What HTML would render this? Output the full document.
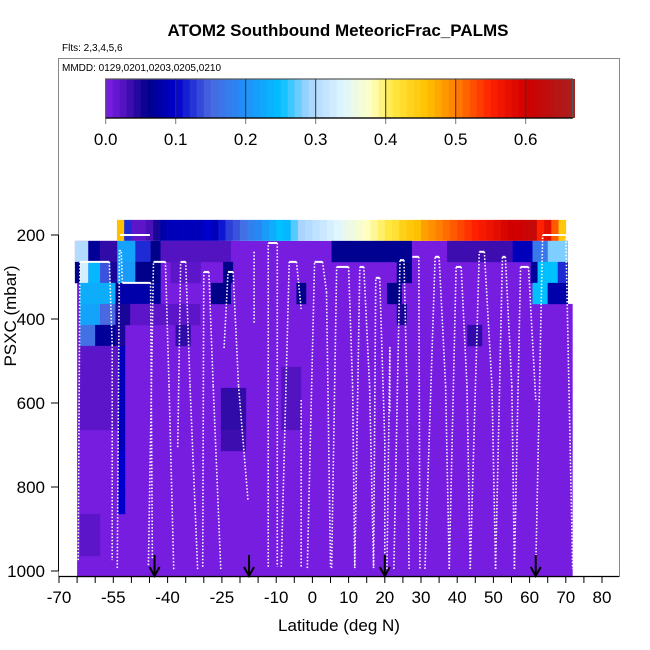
<!DOCTYPE html>
<html><head><meta charset="utf-8"><style>
body{margin:0;background:#fff}
svg{display:block;font-family:"Liberation Sans",sans-serif}
</style></head><body>
<svg id="chart" width="650" height="650" viewBox="0 0 650 650">
<rect width="650" height="650" fill="#fff"/>
<text x="338" y="36" text-anchor="middle" font-size="17" font-weight="bold">ATOM2 Southbound MeteoricFrac_PALMS</text>
<text x="62" y="51" font-size="10">Flts: 2,3,4,5,6</text>
<rect x="58.5" y="58.5" width="561" height="518" fill="none" stroke="#888" stroke-width="1"/>
<text x="62" y="71" font-size="10">MMDD: 0129,0201,0203,0205,0210</text>
<g id="heat"></g>
<g id="colorbar"></g>
<g id="track"></g>
<g id="arrows"></g>
<g id="axes"></g>
<text x="339" y="631" text-anchor="middle" font-size="17">Latitude (deg N)</text>
<text transform="translate(16,316) rotate(-90)" text-anchor="middle" font-size="17">PSXC (mbar)</text>
</svg>
<script>
// ---- data ----
const stripLat0 = [-54,-52,-50,-48,-46,-44,-42,-40,-38,-36,-34,-32,-30,-28,-26,-24,-22,-20,-18,-16,-14,-12,-10,-8,-6,-4,-2,0,2,4,6,8,10,12,14,16,18,20,22,24,26,28,30,32,34,36,38,40,42,44,46,48,50,52,54,56,58,60,62,64,66,68];
const stripVal = [0.46,0.12,0.02,0.02,0.03,0.05,0.08,0.09,0.09,0.09,0.09,0.09,0.10,0.09,0.11,0.13,0.14,0.16,0.18,0.19,0.21,0.23,0.25,0.24,0.27,0.29,0.30,0.31,0.32,0.33,0.34,0.35,0.36,0.37,0.38,0.39,0.40,0.41,0.42,0.44,0.45,0.46,0.48,0.49,0.50,0.51,0.52,0.53,0.54,0.55,0.56,0.57,0.58,0.59,0.60,0.60,0.61,0.62,0.55,0.58,0.52,0.45];
const baseRowLat0 = [-65.6,-65.6,-65,-65,-65,-65,-65,-65,-65,-65,-65,-65,-65,-65,-65,-65];
const baseRowLat1 = [70.6,70.6,70.6,71.9,71.9,71.9,71.9,71.9,71.9,71.9,71.9,71.9,71.9,71.9,71.9,71.9];
const baseVal = 0.005;
const cellLat0 = [-65.6,-61.9,-58.6,-53.9,-48.9,-44.7,-41.9,5.3,37.2,55.3,60.8,65,
 -65.6,-64.2,-61.9,-58.6,-55.8,-53.9,-48.9,-39.2,-24.7,23.3,60.3,62.2,67.8,
 -64.2,-54.4,-53.1,-44.7,-28,-4.4,20.6,60.8,65,
 -64.2,-58.6,-54.4,-50.3,23.3,
 -64.2,-60,-54.4,-37.8,42.8,
 -64.2,-64.2,-64.2,-64.2,-53.6,-53.6,-53.6,-53.6,-53.6,-53.6,-53.6,-53.6,-25.3,-25.3,-25.3,-8.6,-8.6,-8.6,-64.2,-64.2];
const cellLat1 = [-61.9,-58.6,-53.9,-48.9,-44.7,-41.9,-22.5,27.5,55.3,60.8,65,70.6,
 -64.2,-61.9,-58.6,-55.8,-53.9,-48.9,-41.9,-30.8,-21.9,27.5,62.2,67.8,70.6,
 -54.4,-53.1,-44.7,-41.9,-22.5,-1.7,24.7,65,70.6,
 -58.6,-54.4,-50.3,-31,26.1,
 -60,-54.4,-51.7,-33.6,46.9,
 -53.6,-53.6,-53.6,-53.6,-51.7,-51.7,-51.7,-51.7,-51.7,-51.7,-51.7,-51.7,-18.3,-18.3,-18.3,-3.1,-3.1,-3.1,-58.6,-58.6];
const cellRow = [1,1,1,1,1,1,1,1,1,1,1,1,
 2,2,2,2,2,2,2,2,2,2,2,2,2,
 3,3,3,3,3,3,3,3,3,
 4,4,4,4,4,
 5,5,5,5,5,
 6,7,8,9,6,7,8,9,10,11,12,13,8,9,10,7,8,9,14,15];
const cellVal = [0.30,0.07,0.04,0.22,0.12,0.06,0.025,0.065,0.035,0.09,0.17,0.28,
 0.06,0.33,0.24,0.14,0.05,0.21,0.06,0.02,0.06,0.06,0.07,0.25,0.12,
 0.23,0.06,0.08,0.07,0.06,0.06,0.06,0.25,0.08,
 0.22,0.15,0.05,0.02,0.05,
 0.16,0.07,0.05,0.04,0.04,
 0.02,0.02,0.02,0.02,0.09,0.09,0.09,0.09,0.09,0.1,0.1,0.1,0.04,0.04,0.035,0.025,0.025,0.025,0.02,0.02];
// flight track vertices (null = break)
const trackLat = [-64.7,-64.2,-56.1,-55.3,-55.3,null,-53.9,-53.3,-52.8,-52.5,-44.7,-44.2,null,-45.3,-43.9,-40.6,-39.6,-38.3,null,-37.2,-36.4,-35,-33.8,-31.7,null,-30.3,-30,-28.6,-27.4,-25.3,null,-24.4,-23.3,-21.9,-20.4,-17.8,null,-16.1,-16.1,null,-12.2,-12.2,-9.7,-9.7,null,-8.6,-6.4,-4.4,-3.1,null,-3.1,-3.1,null,-1.4,0.6,2.8,3.9,5,null,5.3,6.7,10,11.1,11.7,null,11.7,13.1,14.2,15.8,16.9,null,16.9,17.5,18.6,20,20,null,20.6,21.4,21.4,null,22.5,24.2,25.3,26.1,26.7,null,27.6,28.1,29.4,29.7,null,31.1,33.9,35,36.8,37.8,null,37.8,39.7,41.1,42.7,43.6,null,43.6,46.1,47.5,49.6,50.6,null,50.6,52.5,53.3,55.1,55.8,null,55.8,57.5,59.7,61.7,null,61.7,63.6,69.2,70,71.9,null,-53.1,-44.9,null];
const trackP = [974,264,264,462,974,null,993,236,240,314,314,974,null,986,264,264,560,998,null,705,264,264,560,998,null,990,288,288,560,998,null,469,288,288,560,831,null,240,410,null,990,219,219,990,null,990,264,264,376,null,593,990,null,993,264,264,336,990,null,993,276,276,560,993,null,993,276,276,560,993,null,993,302,302,695,995,null,995,467,620,null,995,260,260,560,995,null,252,252,252,995,null,995,252,252,560,995,null,995,276,276,560,995,null,995,240,240,560,995,null,995,252,252,560,995,null,995,276,276,593,null,995,200,200,200,995,null,200,200,null];
const arrowLat = [-43.6,-17.5,20,61.7];
const cbTicks = [0,0.1,0.2,0.3,0.4,0.5,0.6];
const yTicks = [200,400,600,800,1000];
const xTicks = [-70,-65,-60,-55,-50,-45,-40,-35,-30,-25,-20,-15,-10,-5,0,5,10,15,20,25,30,35,40,45,50,55,60,65,70,75,80];
const xLabels = [-70,-55,-40,-25,-10,0,10,20,30,40,50,60,70,80];

// ---- scales ----
const NS="http://www.w3.org/2000/svg";
const X = lat => 59 + (lat + 70) * 3.62;
const Y = p => 235 + (p - 200) * 0.42;
const CB = v => 105.7 + v * 700;
const stops = [[0,'#8020e8'],[0.03,'#4a10b8'],[0.06,'#000088'],[0.1,'#0000cc'],[0.15,'#4a68e0'],[0.2,'#2090f8'],[0.25,'#00c0ff'],[0.29,'#a8d4ff'],[0.34,'#e0f6ff'],[0.38,'#ffffc0'],[0.41,'#ffe840'],[0.46,'#ffc000'],[0.5,'#ff8000'],[0.55,'#ff2000'],[0.6,'#d00000'],[0.67,'#a82020']];
function hx(c){return [1,3,5].map(i=>parseInt(c.substr(i,2),16));}
function col(v){
  if(v<=0) return stops[0][1];
  for(let i=1;i<stops.length;i++){ if(v<=stops[i][0]){ const a=stops[i-1],b=stops[i]; const t=(v-a[0])/(b[0]-a[0]); const A=hx(a[1]),B=hx(b[1]); return 'rgb('+A.map((x,k)=>Math.round(x+(B[k]-x)*t)).join(',')+')'; } }
  return stops[stops.length-1][1];
}
function mk(tag,attrs,parent){const e=document.createElementNS(NS,tag);for(const k in attrs)e.setAttribute(k,attrs[k]);parent.appendChild(e);return e;}
const rowTop = r => 164 + 50*r;

// heatmap
const heat=document.getElementById('heat');
baseRowLat0.forEach((l0,i)=>{
  const r=i+1;
  const e=mk('rect',{x:X(l0),y:Y(rowTop(r)),width:X(baseRowLat1[i])-X(l0),height:Y(rowTop(r)+50)-Y(rowTop(r))+0.3,fill:col(baseVal)},heat);
  
  
});
stripLat0.forEach((l0,i)=>{
  const e=mk('rect',{x:X(l0),y:Y(rowTop(0)),width:X(l0+2)-X(l0)+0.3,height:Y(rowTop(1))-Y(rowTop(0)),fill:col(stripVal[i])},heat);
  
  
});
cellLat0.forEach((l0,i)=>{
  const r=cellRow[i];
  const e=mk('rect',{x:X(l0),y:Y(rowTop(r)),width:X(cellLat1[i])-X(l0),height:Y(rowTop(r)+50)-Y(rowTop(r))+0.3,fill:col(cellVal[i])},heat);
  
  
});

// colorbar
const cb=document.getElementById('colorbar');
for(let i=0;i<67;i++){
  const v=i*0.01;
  const e=mk('rect',{x:CB(v),y:79,width:7.3,height:39,fill:col(v+0.005)},cb);
  
  
}
mk('rect',{x:CB(0),y:79,width:CB(0.667)-CB(0),height:39,fill:'none',stroke:'#555','stroke-width':1.2},cb);
cbTicks.forEach(v=>{
  if(v>0){const s=mk('line',{x1:CB(v),x2:CB(v),y1:79,y2:118,stroke:'#333','stroke-width':1},cb);
  
  }
  const t=mk('line',{x1:CB(v),x2:CB(v),y1:118,y2:124,stroke:'#777'},cb);
  
  
  const l=mk('text',{x:CB(v),y:145,'text-anchor':'middle','font-size':17},cb);
  l.textContent=v.toFixed(1);
  
  
});
mk('line',{x1:CB(0),x2:CB(0.667),y1:118,y2:118,stroke:'#000','stroke-width':1.2},cb);

// track
const tr=document.getElementById('track');
for(let i=1;i<trackLat.length;i++){
  if(trackLat[i]===null||trackLat[i-1]===null) continue;
  const level = trackP[i]===trackP[i-1];
  const e=mk('line',{x1:X(trackLat[i-1]),y1:Y(trackP[i-1]),x2:X(trackLat[i]),y2:Y(trackP[i]),stroke:'#fff','stroke-width':level?2:1.6,'stroke-dasharray':level?'none':'1.5 1.8'},tr);
  
  
}

// arrows
const ar=document.getElementById('arrows');
arrowLat.forEach(l=>{
  const x=X(l);
  const g=mk('g',{},ar);
  
  
  mk('line',{x1:x,x2:x,y1:555,y2:576,stroke:'#000','stroke-width':2},g);
  mk('polyline',{points:(x-5)+',567 '+x+',576 '+(x+5)+',567',fill:'none',stroke:'#000','stroke-width':2},g);
});

// axes
const ax=document.getElementById('axes');
mk('line',{x1:58.5,x2:58.5,y1:Y(200),y2:Y(1000),stroke:'#000'},ax);
mk('line',{x1:59,x2:619,y1:576.5,y2:576.5,stroke:'#000','stroke-width':1.2},ax);
yTicks.forEach(p=>{
  const t=mk('line',{x1:51,x2:58.5,y1:Y(p),y2:Y(p),stroke:'#000'},ax);
  
  
  const l=mk('text',{x:45,y:Y(p)+6,'text-anchor':'end','font-size':17},ax);
  l.textContent=p;
  
  
});
xTicks.forEach(v=>{
  const t=mk('line',{x1:X(v),x2:X(v),y1:576.5,y2:583,stroke:'#000'},ax);
  
  
});
xLabels.forEach(v=>{
  const l=mk('text',{x:X(v),y:603,'text-anchor':'middle','font-size':17},ax);
  l.textContent=v;
  
  
});
</script>
</body></html>
